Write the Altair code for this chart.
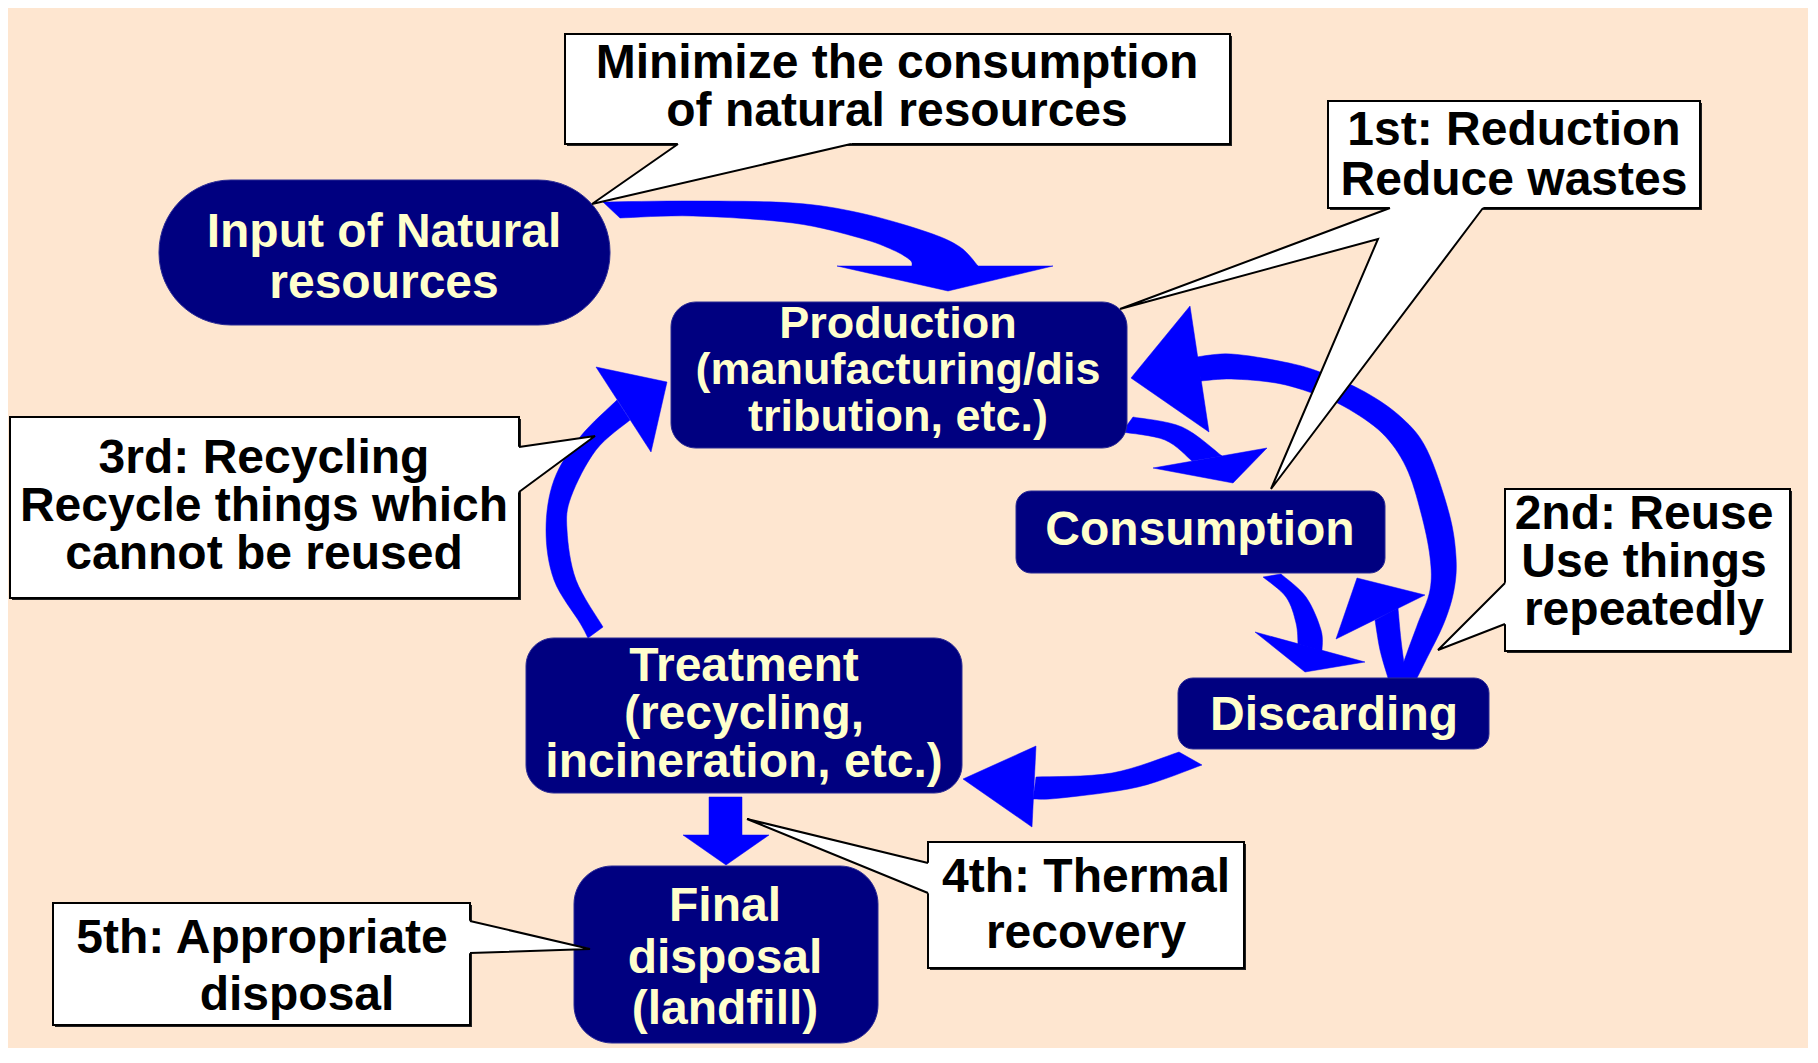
import altair as alt
import pandas as pd

# ---------------- canvas / style ----------------
W, H = 1800, 1040          # plot area (page pixels 8..1808 x 8..1048)
OFF = 8                    # page margin
BG = "#FEE6D0"
NAVY = "#000080"
NODE_TXT = "#FFFFCC"
BLUE = "#0000FF"
FONT = "Liberation Sans"

# ---------------- process nodes (navy boxes) ----------------
NODE_LEFT = [159, 671, 1016, 1178, 526, 574]
NODE_RIGHT = [610, 1127, 1385, 1489, 962, 878]
NODE_TOP = [180, 302, 491, 678, 638, 866]
NODE_BOTTOM = [325, 448, 573, 749, 793, 1043]
NODE_RADIUS = [72, 25, 15, 15, 28, 38]
NODE_LINES = [
    ["Input of Natural", "resources"],
    ["Production", "(manufacturing/dis", "tribution, etc.)"],
    ["Consumption"],
    ["Discarding"],
    ["Treatment", "(recycling,", "incineration, etc.)"],
    ["Final", "disposal", "(landfill)"],
]
NODE_TEXT_X = [384, 898, 1200, 1334, 744, 725]
NODE_FIRST_BASELINE = [247, 337.5, 545, 730, 681, 921]
NODE_LINE_HEIGHT = [51, 46.5, 48, 48, 48, 51.5]
NODE_FONT_SIZE = [48, 45, 48, 48, 48, 48]

# ---------------- callouts (white boxes) ----------------
CALL_LEFT = [565, 1328, 1505, 10, 928, 53]
CALL_RIGHT = [1230, 1700, 1790, 519, 1244, 470]
CALL_TOP = [34, 101, 489, 417, 842, 903]
CALL_BOTTOM = [144, 208, 651, 598, 968, 1025]
CALL_LINES = [
    ["Minimize the consumption", "of natural resources"],
    ["1st: Reduction", "Reduce wastes"],
    ["2nd: Reuse", "Use things", "repeatedly"],
    ["3rd: Recycling", "Recycle things which", "cannot be reused"],
    ["4th: Thermal", "recovery"],
    ["5th: Appropriate"],
    ["disposal"],
]
CALL_TEXT_X = [897, 1514, 1644, 264, 1086, 262, 297]
CALL_FIRST_BASELINE = [78, 145, 529, 473, 892, 953, 1010]
CALL_LINE_HEIGHT = [48, 50, 48, 48, 56, 56, 56]
CALL_FONT_SIZE = 48
POINTERS = [
    [(678, 144), (592, 204), (851, 144)],
    [(1390, 208), (1120, 309), (1378, 239), (1271, 489), (1483, 208)],
    [(1505, 583), (1438, 650), (1505, 624)],
    [(519, 447), (595, 436), (519, 492)],
    [(928, 863), (747, 819), (928, 893)],
    [(470, 921), (590, 949), (470, 953)],
]
POINTER_INSET = [(0, -4), (0, -4), (4, 0), (-4, 0), (4, 0), (-4, 0)]

# ---------------- arrows (outline edges) ----------------
IN_OUTER = [(603, 202), (693, 201), (793, 203), (860, 213), (927, 232), (960, 247), (978, 266)]
IN_INNER = [(620, 218), (693, 216), (793, 223), (860, 238), (893, 250), (910, 260), (912, 266)]
IN_HEAD = [(837, 266), (1053, 266), (948, 291)]

BIG_OUTER = [(1196, 357), (1231, 354), (1284, 362), (1320, 372), (1365, 392), (1402, 418), (1427, 450),
             (1449, 513), (1456, 557), (1454, 590), (1444, 623), (1426, 660), (1417, 678)]
BIG_INNER = [(1201, 381), (1231, 379), (1276, 383), (1312, 393), (1345, 407), (1382, 433), (1406, 467),
             (1421, 513), (1430, 557), (1430, 590), (1418, 623), (1408, 650), (1398, 678)]
BIG_HEAD = [(1131, 378), (1190, 306), (1209, 432)]

REUSE_LEFT = [(1388, 678), (1380, 650), (1375, 620)]
REUSE_RIGHT = [(1406, 678), (1401, 640), (1398, 608)]
REUSE_HEAD = [(1357, 578), (1425, 595), (1336, 639)]

CD_LEFT = [(1263, 577), (1286, 597), (1296, 623), (1298, 644)]
CD_RIGHT = [(1281, 574), (1306, 597), (1321, 630), (1322, 651)]
CD_HEAD = [(1255, 632), (1365, 662), (1305, 672)]

PC_OUTER = [(1133, 417), (1182, 427), (1222, 456)]
PC_INNER = [(1122, 432), (1165, 440), (1192, 461)]
PC_HEAD = [(1153, 468), (1267, 448), (1233, 483)]

DT_TOP = [(1179, 752), (1112, 773), (1036, 777)]
DT_BOTTOM = [(1202, 765), (1138, 787), (1061, 798), (1033, 799)]
DT_HEAD = [(1036, 746), (1032, 827), (963, 779)]

TP_OUTER = [(617, 400), (580, 437), (554, 480), (546, 530), (554, 580), (580, 623), (588, 638)]
TP_INNER = [(630, 420), (596, 450), (571, 497), (567, 530), (576, 580), (603, 627)]
TP_HEAD = [(596, 367), (667, 382), (651, 452)]

TF_ARROW = [(709, 797), (742, 797), (742, 835), (769, 835), (726, 865), (683, 835), (709, 835)]


def smooth(pts, steps=8):
    """Catmull-Rom smoothing of an outline edge for drawing."""
    if len(pts) < 3:
        return [tuple(map(float, p)) for p in pts]
    p = [pts[0]] + list(pts) + [pts[-1]]
    out = []
    for i in range(1, len(p) - 2):
        p0, p1, p2, p3 = p[i - 1], p[i], p[i + 1], p[i + 2]
        for s in range(steps):
            t = s / steps
            t2, t3 = t * t, t * t * t
            xy = []
            for k in range(2):
                xy.append(0.5 * (2 * p1[k] + (-p0[k] + p2[k]) * t
                                 + (2 * p0[k] - 5 * p1[k] + 4 * p2[k] - p3[k]) * t2
                                 + (-p0[k] + 3 * p1[k] - 3 * p2[k] + p3[k]) * t3))
            out.append(tuple(xy))
    out.append(tuple(map(float, pts[-1])))
    return out


def polygon(ring):
    ring = [[float(a), float(b)] for a, b in ring]
    if ring[0] != ring[-1]:
        ring.append(ring[0])
    return {"type": "Feature", "properties": {}, "geometry": {"type": "Polygon", "coordinates": [ring]}}


def linestring(pts):
    return {"type": "Feature", "properties": {},
            "geometry": {"type": "LineString", "coordinates": [[float(a), float(b)] for a, b in pts]}}


def band(edge_a, edge_b):
    return polygon(smooth(edge_a) + list(reversed(smooth(edge_b))))


arrow_feats = [
    band(IN_OUTER, IN_INNER), polygon(IN_HEAD),
    band(BIG_OUTER, BIG_INNER), polygon(BIG_HEAD),
    band(REUSE_LEFT, REUSE_RIGHT), polygon(REUSE_HEAD),
    band(CD_LEFT, CD_RIGHT), polygon(CD_HEAD),
    band(PC_OUTER, PC_INNER), polygon(PC_HEAD),
    band(DT_TOP, DT_BOTTOM), polygon(DT_HEAD),
    band(TP_OUTER, TP_INNER), polygon(TP_HEAD),
    polygon(TF_ARROW),
]

pointer_fill = []
pointer_lines = []
for pts, (dx, dy) in zip(POINTERS, POINTER_INSET):
    a = (pts[0][0] + dx, pts[0][1] + dy)
    b = (pts[-1][0] + dx, pts[-1][1] + dy)
    pointer_fill.append(polygon([a] + pts + [b]))
    pointer_lines.append(linestring(pts))

PROJ = dict(type="identity", scale=1, translate=[-OFF, -OFF])
xs = alt.Scale(domain=[OFF, OFF + W], nice=False, zero=False)
ys = alt.Scale(domain=[OFF, OFF + H], nice=False, zero=False, reverse=True)

layers = []

# arrows
layers.append(
    alt.Chart(alt.Data(values=arrow_feats)).mark_geoshape(fill=BLUE, stroke=BLUE, strokeWidth=0.5)
    .project(**PROJ)
)

# nodes
for i in range(len(NODE_LEFT)):
    df = pd.DataFrame({"x0": [NODE_LEFT[i]], "x1": [NODE_RIGHT[i]],
                       "y0": [NODE_TOP[i]], "y1": [NODE_BOTTOM[i]]})
    layers.append(
        alt.Chart(df).mark_rect(fill=NAVY, stroke="#2a2a94", strokeWidth=1, cornerRadius=NODE_RADIUS[i])
        .encode(x=alt.X("x0:Q", scale=xs, axis=None), x2="x1",
                y=alt.Y("y0:Q", scale=ys, axis=None), y2="y1")
    )

# callout boxes (with a slight shadow)
call_df = pd.DataFrame({"x0": CALL_LEFT, "x1": CALL_RIGHT, "y0": CALL_TOP, "y1": CALL_BOTTOM})
shadow_df = pd.DataFrame({"x0": [v + 2 for v in CALL_LEFT], "x1": [v + 2 for v in CALL_RIGHT],
                          "y0": [v + 2 for v in CALL_TOP], "y1": [v + 2 for v in CALL_BOTTOM]})
layers.append(
    alt.Chart(shadow_df).mark_rect(fill="#222222")
    .encode(x=alt.X("x0:Q", scale=xs, axis=None), x2="x1",
            y=alt.Y("y0:Q", scale=ys, axis=None), y2="y1")
)
layers.append(
    alt.Chart(call_df).mark_rect(fill="white", stroke="black", strokeWidth=2)
    .encode(x=alt.X("x0:Q", scale=xs, axis=None), x2="x1",
            y=alt.Y("y0:Q", scale=ys, axis=None), y2="y1")
)
layers.append(
    alt.Chart(alt.Data(values=pointer_fill)).mark_geoshape(fill="white", stroke="white", strokeWidth=0.5)
    .project(**PROJ)
)
layers.append(
    alt.Chart(alt.Data(values=pointer_lines)).mark_geoshape(filled=False, stroke="black", strokeWidth=2)
    .project(**PROJ)
)


def text_block(lines, x, y, lh, fs, color):
    df = pd.DataFrame({"x": [x], "y": [y], "text": ["\n".join(lines)]})
    return (
        alt.Chart(df).mark_text(font=FONT, fontWeight="bold", fontSize=fs, align="center",
                                baseline="alphabetic", lineBreak="\n", lineHeight=lh, color=color)
        .encode(x=alt.X("x:Q", scale=xs, axis=None), y=alt.Y("y:Q", scale=ys, axis=None),
                text="text:N")
    )


for lines, x, y, lh, fs in zip(NODE_LINES, NODE_TEXT_X, NODE_FIRST_BASELINE, NODE_LINE_HEIGHT,
                               NODE_FONT_SIZE):
    layers.append(text_block(lines, x, y, lh, fs, NODE_TXT))
for lines, x, y, lh in zip(CALL_LINES, CALL_TEXT_X, CALL_FIRST_BASELINE, CALL_LINE_HEIGHT):
    layers.append(text_block(lines, x, y, lh, CALL_FONT_SIZE, "black"))

chart = (
    alt.layer(*layers)
    .properties(width=W, height=H, background=BG, padding=0, autosize="none")
    .configure_view(strokeWidth=0)
)

chart.save("out.html", embed_options={"renderer": "svg", "actions": False})
